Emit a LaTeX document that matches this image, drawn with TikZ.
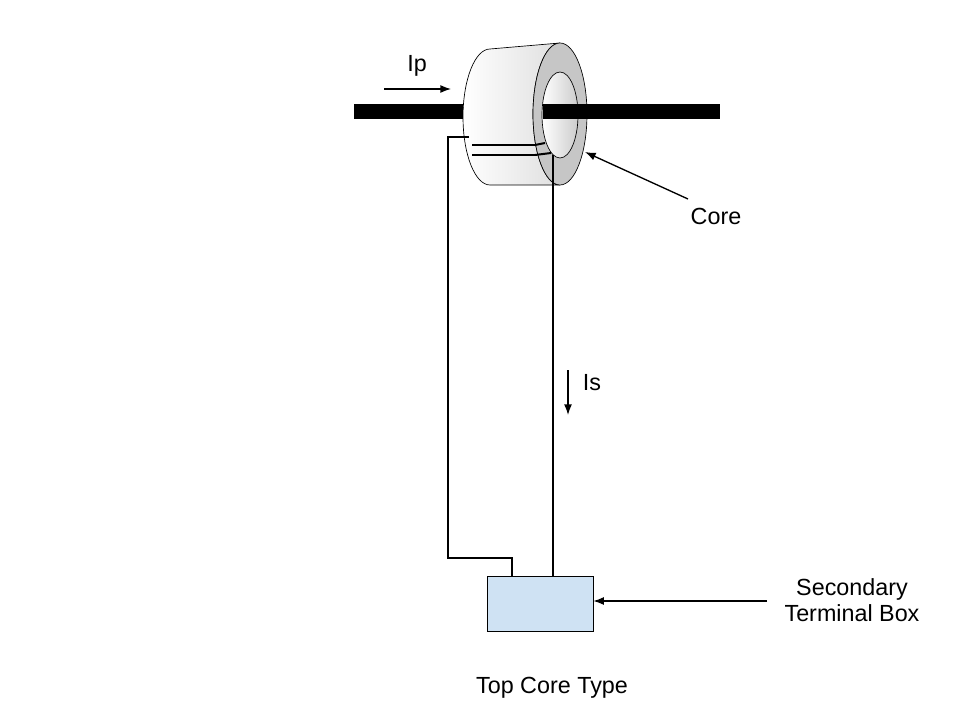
\documentclass[tikz,border=0pt]{standalone}
\usepackage{fontspec}
\setmainfont{Liberation Sans}
\usetikzlibrary{arrows.meta}
\begin{document}
\begin{tikzpicture}[x=0.75pt,y=-0.75pt,
 lbl/.style={font=\fontsize{17.5}{20}\selectfont,inner sep=0pt},
 arr/.style={-{Latex[length=8pt,width=6pt]},line width=1pt},
 wire/.style={line width=1pt}]
\useasboundingbox (0,0) rectangle (960,720);
% bar left
\fill (354,104) rectangle (466,119);
% cylinder body
\shade[left color=white,right color=gray!25,draw=black,line width=0.5pt]
 (490,49) -- (560,43) arc[start angle=270,end angle=90,x radius=27,y radius=71] -- (490,185)
 arc[start angle=90,end angle=270,x radius=27,y radius=68] -- cycle;
% front ring
\fill[gray!45,draw=black,line width=0.5pt] (560,114) ellipse[x radius=27,y radius=71];
\shade[left color=white,right color=gray!40,draw=black,line width=0.5pt] (560,115) ellipse[x radius=18,y radius=43];
% winding lines
\draw[line width=1pt] (472,145) -- (535,145) (472,155) -- (535,155);
\draw[line width=1.5pt] (535,145) -- (545,143) (535,155) -- (551,153);
% bar right
\fill (543,104) rectangle (720,119);
% nodes
\node[draw,fill={rgb,255:red,207;green,226;blue,243},minimum width=106*0.75pt,minimum height=55*0.75pt,inner sep=0pt] (box) at (540,603.5) {};
\coordinate (w1) at (469,137);
\coordinate (w2) at (553,155);
\draw[wire] (w1) -- (448,137) -- (448,558) -- (512,558) -- (512,576);
\draw[wire] (w2) -- (553,576);
\node[lbl,align=center] (sec) at (852,600) {Secondary\\Terminal Box};
\coordinate (bs) at (767,601);
\draw[arr] (bs) -- (box.east |- bs);
\node[lbl] (core) at (716,216) {Core};
\coordinate (ce) at (585,152);
\draw[arr] (688,199) -- (ce);
\node[lbl] (ip) at (417,66) {Ip};
\coordinate (ip1) at (384,89); \coordinate (ip2) at (451,89);
\draw[arr] (ip1) -- (ip2);
\node[lbl] (is) at (592,383) {Is};
\coordinate (is1) at (568,370); \coordinate (is2) at (568,415);
\draw[arr] (is1) -- (is2);
\node[lbl] (title) at (552,688) {Top Core Type};
\end{tikzpicture}
\end{document}
